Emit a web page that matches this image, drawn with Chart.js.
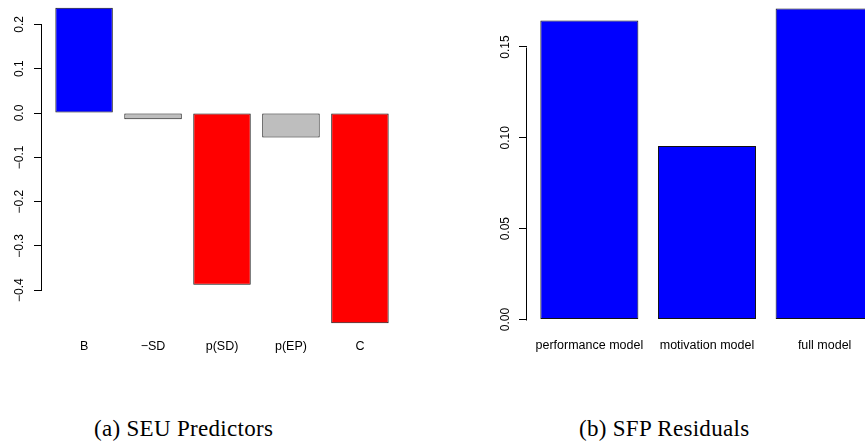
<!DOCTYPE html>
<html>
<head>
<meta charset="utf-8">
<title>SEU Predictors / SFP Residuals</title>
<script src="https://cdn.jsdelivr.net/npm/chart.js@4.4.1/dist/chart.umd.min.js"></script>
<style>
    html, body { margin: 0; padding: 0; background: #fff; overflow: hidden; }
    body { width: 865px; height: 448px; position: relative; }
    canvas { position: absolute; }
    #seuChart { left: 0; top: -5px; }
    #sfpChart { left: 485px; top: -4px; }
    .caption {
        position: absolute;
        top: 417px;
        font-family: "Liberation Serif", serif;
        font-size: 23px;
        letter-spacing: 0.3px;
        line-height: 1;
        color: #000;
        white-space: nowrap;
    }
</style>
</head>
<body>
<canvas id="seuChart" width="402" height="371"></canvas>
<canvas id="sfpChart" width="402" height="366"></canvas>
<div class="caption" style="left: 94px;">(a) SEU Predictors</div>
<div class="caption" style="left: 579px;">(b) SFP Residuals</div>

<script>
// --- (a) SEU predictors ---
const seuNames = ['B', '\u2212SD', 'p(SD)', 'p(EP)', 'C'];
const seuValues = [0.238, -0.014, -0.388, -0.055, -0.475];
const seuColors = ['#0000FF', '#BEBEBE', '#FF0000', '#BEBEBE', '#FF0000'];
const seuTicks = [-0.4, -0.3, -0.2, -0.1, 0, 0.1, 0.2];
const seuTickLabels = ['\u22120.4', '\u22120.3', '\u22120.2', '\u22120.1', '0.0', '0.1', '0.2'];

// --- (b) SFP residuals ---
const sfpNames = ['performance model', 'motivation model', 'full model'];
const sfpValues = [0.1646, 0.0955, 0.1712];
const sfpColors = ['#0000FF', '#0000FF', '#0000FF'];
const sfpTicks = [0, 0.05, 0.10, 0.15];
const sfpTickLabels = ['0.00', '0.05', '0.10', '0.15'];

// R style axis: the line only runs from the first to the last tick
const axisLine = {
    id: 'axisLine',
    afterDraw(chart) {
        const yScale = chart.scales.y;
        const ticks = yScale.ticks;
        const ctx = chart.ctx;
        const x = Math.round(chart.chartArea.left) - 0.5;
        ctx.save();
        ctx.strokeStyle = '#000';
        ctx.lineWidth = 1;
        ctx.beginPath();
        ctx.moveTo(x, Math.round(yScale.getPixelForValue(ticks[0].value)) + 0.5);
        ctx.lineTo(x, Math.round(yScale.getPixelForValue(ticks[ticks.length - 1].value)) + 0.5);
        ctx.stroke();
        ctx.restore();
    }
};

// barplot() like layout: bars of width 1 with 0.2 space, ranges padded by 4%
function makeBarplot(canvasId, names, values, colors, ticks, tickLabels, labelGap) {
    const mids = names.map((_, i) => 0.7 + 1.2 * i);
    const xLo = 0.2, xHi = 1.2 * names.length;
    const xPad = 0.04 * (xHi - xLo);
    const yLo = Math.min(0, ...values), yHi = Math.max(0, ...values);
    const yPad = 0.04 * (yHi - yLo);

    new Chart(document.getElementById(canvasId), {
        type: 'bar',
        data: {
            datasets: [{
                data: mids.map((x, i) => ({ x: x, y: values[i] })),
                backgroundColor: colors,
                borderColor: '#111',
                borderWidth: 1,
                borderSkipped: false,
                barPercentage: 1 / 1.2,
                categoryPercentage: 1
            }]
        },
        options: {
            responsive: false,
            animation: false,
            layout: { padding: 0 },
            plugins: {
                legend: { display: false },
                tooltip: { enabled: false }
            },
            scales: {
                x: {
                    type: 'linear',
                    offset: false,
                    min: xLo - xPad,
                    max: xHi + xPad,
                    grid: { display: false, drawTicks: false, offset: false },
                    border: { display: false },
                    afterBuildTicks: axis => { axis.ticks = mids.map(v => ({ value: v })); },
                    ticks: {
                        autoSkip: false,
                        maxRotation: 0,
                        padding: labelGap,
                        color: '#000',
                        font: { family: 'Liberation Sans', size: 12.5 },
                        callback: (v, i) => names[i]
                    },
                    afterFit: scale => {
                        scale.height = 30;
                        scale.paddingLeft = 0;
                        scale.paddingRight = 0;
                    }
                },
                y: {
                    type: 'linear',
                    min: yLo - yPad,
                    max: yHi + yPad,
                    grid: { drawOnChartArea: false, tickLength: 8, color: '#000', lineWidth: 1 },
                    border: { display: false },
                    afterBuildTicks: axis => { axis.ticks = ticks.map(v => ({ value: v })); },
                    ticks: {
                        minRotation: 90,
                        maxRotation: 90,
                        crossAlign: 'center',
                        padding: 2,
                        color: '#000',
                        font: { family: 'Liberation Sans', size: 12 },
                        callback: (v, i) => tickLabels[i]
                    },
                    afterFit: scale => {
                        scale.width = 42;
                        scale.paddingTop = 0;
                        scale.paddingBottom = 0;
                    }
                }
            }
        },
        plugins: [axisLine]
    });
}

makeBarplot('seuChart', seuNames, seuValues, seuColors, seuTicks, seuTickLabels, 3);
makeBarplot('sfpChart', sfpNames, sfpValues, sfpColors, sfpTicks, sfpTickLabels, 6);
</script>
</body>
</html>
